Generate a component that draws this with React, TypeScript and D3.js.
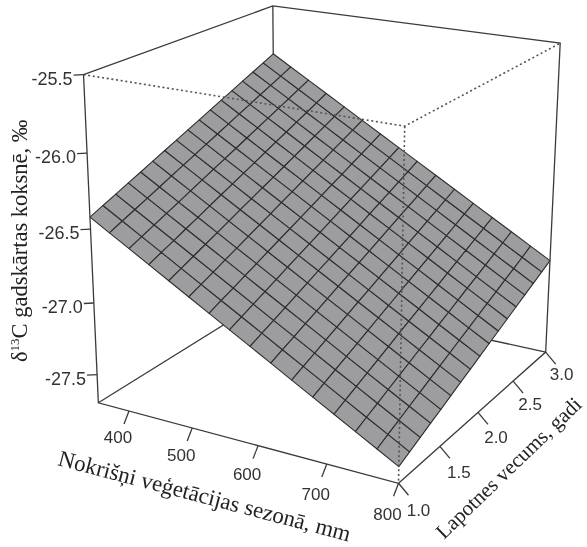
import React from "react";
import * as d3 from "d3";

const rainTicks = [400, 500, 600, 700, 800];
const ageTicks = [1.0, 1.5, 2.0, 2.5, 3.0];
const deltaTicks = [-25.5, -26.0, -26.5, -27.0, -27.5];

const rainLim = [350, 800];
const ageLim = [1, 3];
const deltaLim = [-27.7, -25.5];

const rainGrid = [350, 380, 410, 440, 470, 500, 530, 560, 590, 620, 650, 680, 710, 740, 770, 800];
const ageGrid = [1, 1.125, 1.25, 1.375, 1.5, 1.625, 1.75, 1.875, 2, 2.125, 2.25, 2.375, 2.5, 2.625, 2.75, 2.875, 3];

// fitted d13C, one row per age, one column per rain
const surface = [
  [-26.420, -26.498, -26.576, -26.654, -26.732, -26.810, -26.888, -26.966, -27.044, -27.122, -27.200, -27.278, -27.356, -27.434, -27.512, -27.590],
  [-26.384, -26.462, -26.540, -26.618, -26.696, -26.774, -26.852, -26.930, -27.008, -27.086, -27.164, -27.242, -27.320, -27.398, -27.476, -27.554],
  [-26.349, -26.427, -26.505, -26.583, -26.661, -26.739, -26.817, -26.895, -26.973, -27.051, -27.129, -27.207, -27.285, -27.363, -27.441, -27.519],
  [-26.313, -26.391, -26.469, -26.547, -26.625, -26.703, -26.781, -26.859, -26.937, -27.015, -27.093, -27.171, -27.249, -27.327, -27.405, -27.483],
  [-26.278, -26.356, -26.434, -26.512, -26.590, -26.668, -26.746, -26.824, -26.902, -26.980, -27.058, -27.136, -27.214, -27.292, -27.370, -27.448],
  [-26.242, -26.320, -26.398, -26.476, -26.554, -26.632, -26.710, -26.788, -26.866, -26.944, -27.022, -27.100, -27.178, -27.256, -27.334, -27.412],
  [-26.206, -26.284, -26.362, -26.440, -26.518, -26.596, -26.674, -26.752, -26.830, -26.908, -26.986, -27.064, -27.142, -27.220, -27.298, -27.376],
  [-26.171, -26.249, -26.327, -26.405, -26.483, -26.561, -26.639, -26.717, -26.795, -26.873, -26.951, -27.029, -27.107, -27.185, -27.263, -27.341],
  [-26.135, -26.213, -26.291, -26.369, -26.447, -26.525, -26.603, -26.681, -26.759, -26.837, -26.915, -26.993, -27.071, -27.149, -27.227, -27.305],
  [-26.100, -26.178, -26.256, -26.334, -26.412, -26.490, -26.568, -26.646, -26.724, -26.802, -26.880, -26.958, -27.036, -27.114, -27.192, -27.270],
  [-26.064, -26.142, -26.220, -26.298, -26.376, -26.454, -26.532, -26.610, -26.688, -26.766, -26.844, -26.922, -27.000, -27.078, -27.156, -27.234],
  [-26.028, -26.106, -26.184, -26.262, -26.340, -26.418, -26.496, -26.574, -26.652, -26.730, -26.808, -26.886, -26.964, -27.042, -27.120, -27.198],
  [-25.993, -26.071, -26.149, -26.227, -26.305, -26.383, -26.461, -26.539, -26.617, -26.695, -26.773, -26.851, -26.929, -27.007, -27.085, -27.163],
  [-25.957, -26.035, -26.113, -26.191, -26.269, -26.347, -26.425, -26.503, -26.581, -26.659, -26.737, -26.815, -26.893, -26.971, -27.049, -27.127],
  [-25.922, -26.000, -26.078, -26.156, -26.234, -26.312, -26.390, -26.468, -26.546, -26.624, -26.702, -26.780, -26.858, -26.936, -27.014, -27.092],
  [-25.886, -25.964, -26.042, -26.120, -26.198, -26.276, -26.354, -26.432, -26.510, -26.588, -26.666, -26.744, -26.822, -26.900, -26.978, -27.056],
  [-25.850, -25.928, -26.006, -26.084, -26.162, -26.240, -26.318, -26.396, -26.474, -26.552, -26.630, -26.708, -26.786, -26.864, -26.942, -27.020],
];

type Pt = [number, number];

// where the 8 box corners land on the page: [u, v, w, px, py]
const boxCorners = [
  [0, 0, 0, 99, 402],
  [1, 0, 0, 399, 484],
  [1, 1, 0, 546, 351],
  [0, 1, 0, 274, 294],
  [0, 0, 1, 83, 74],
  [1, 0, 1, 404, 127],
  [1, 1, 1, 560, 43],
  [0, 1, 1, 274, 6],
];

function solve(A: number[][], b: number[]) {
  const n = b.length;
  const M = A.map((r, i) => [...r, b[i]]);
  for (let c = 0; c < n; c++) {
    let p = c;
    for (let r = c + 1; r < n; r++) if (Math.abs(M[r][c]) > Math.abs(M[p][c])) p = r;
    [M[c], M[p]] = [M[p], M[c]];
    for (let r = 0; r < n; r++) {
      if (r === c) continue;
      const f = M[r][c] / M[c][c];
      for (let k = c; k <= n; k++) M[r][k] -= f * M[c][k];
    }
  }
  return M.map((r, i) => r[n] / r[i]);
}

// least squares camera matrix for the box (scaled by 100 to keep numbers sane)
function fitCamera() {
  const rows: number[][] = [];
  const rhs: number[] = [];
  boxCorners.forEach(([u, v, w, px, py]) => {
    const X = px / 100, Y = py / 100;
    rows.push([u, v, w, 1, 0, 0, 0, 0, -X * u, -X * v, -X * w]);
    rhs.push(X);
    rows.push([0, 0, 0, 0, u, v, w, 1, -Y * u, -Y * v, -Y * w]);
    rhs.push(Y);
  });
  const AtA = rows[0].map((_, i) => rows[0].map((_, j) => d3.sum(rows, (r) => r[i] * r[j])));
  const Atb = rows[0].map((_, i) => d3.sum(rows, (r, k) => r[i] * rhs[k]));
  return solve(AtA, Atb);
}

const cam = fitCamera();
const uScale = d3.scaleLinear().domain(rainLim).range([0, 1]);
const vScale = d3.scaleLinear().domain(ageLim).range([0, 1]);
const wScale = d3.scaleLinear().domain(deltaLim).range([0, 1]);

function unit(u: number, v: number, w: number): Pt {
  const d = cam[8] * u + cam[9] * v + cam[10] * w + 1;
  return [
    (100 * (cam[0] * u + cam[1] * v + cam[2] * w + cam[3])) / d,
    (100 * (cam[4] * u + cam[5] * v + cam[6] * w + cam[7])) / d,
  ];
}
const project = (rain: number, age: number, delta: number) => unit(uScale(rain), vScale(age), wScale(delta));

const line = d3.line<Pt>();

const [xLo, xHi] = rainLim;
const [yLo, yHi] = ageLim;
const [zLo, zHi] = deltaLim;

const backEdges: Pt[][] = [
  [project(xLo, yHi, zHi), project(xLo, yHi, zLo)],
  [project(xLo, yLo, zLo), project(xLo, yHi, zLo)],
  [project(xHi, yHi, zLo), project(xLo, yHi, zLo)],
];
const dottedEdges: Pt[][] = [
  [project(xLo, yLo, zHi), project(xHi, yLo, zHi), project(xHi, yHi, zHi)],
  [project(xHi, yLo, zHi), project(xHi, yLo, zLo)],
];
const outline: Pt[] = [
  project(xLo, yLo, zHi),
  project(xLo, yHi, zHi),
  project(xHi, yHi, zHi),
  project(xHi, yHi, zLo),
  project(xHi, yLo, zLo),
  project(xLo, yLo, zLo),
  project(xLo, yLo, zHi),
];

// tick labels drift away from the axis as the box comes closer
const rainLabelDy = d3.scaleLinear().domain([400, 800]).range([32, 37]);
const ageLabelDy = d3.scaleLinear().domain(ageLim).range([33, 28]);
const ageLabelDx = d3.scaleLinear().domain(ageLim).range([20, 16]);

const INK = "#3a3a3a";
const SANS = "'Liberation Sans', Arial, sans-serif";
const SERIF = "'Liberation Serif', 'Times New Roman', serif";

export default function App() {
  const cells: string[] = [];
  for (let j = 0; j < ageGrid.length - 1; j++) {
    for (let i = 0; i < rainGrid.length - 1; i++) {
      cells.push(
        line([
          project(rainGrid[i], ageGrid[j], surface[j][i]),
          project(rainGrid[i + 1], ageGrid[j], surface[j][i + 1]),
          project(rainGrid[i + 1], ageGrid[j + 1], surface[j + 1][i + 1]),
          project(rainGrid[i], ageGrid[j + 1], surface[j + 1][i]),
        ])! + "Z"
      );
    }
  }

  return (
    <svg
      width={587}
      height={547}
      style={{ position: "absolute", left: 0, top: 0, background: "#fff" }}
      fontFamily={SANS}
    >
      <defs>
        <filter id="scan" x="0" y="0" width="100%" height="100%">
          <feGaussianBlur stdDeviation="0.35" />
        </filter>
      </defs>
      <g filter="url(#scan)">
        {backEdges.map((e, i) => (
          <path key={i} d={line(e)!} fill="none" stroke={INK} strokeWidth={1.3} />
        ))}

        <g fill="#9d9d9f" stroke="#2e2e2e" strokeWidth={1.1} strokeLinejoin="round">
          {cells.map((d, i) => (
            <path key={i} d={d} />
          ))}
        </g>

        {dottedEdges.map((e, i) => (
          <path
            key={i}
            d={line(e)!}
            fill="none"
            stroke="#555"
            strokeWidth={1.6}
            strokeDasharray="2 2.7"
          />
        ))}

        <path d={line(outline)!} fill="none" stroke={INK} strokeWidth={1.3} />

        {deltaTicks.map((t) => {
          const [x, y] = project(xLo, yLo, t);
          return (
            <g key={t}>
              <line x1={x} y1={y} x2={x - 10} y2={y + 0.5} stroke={INK} strokeWidth={1.3} />
              <text x={x - 11} y={y + 10} textAnchor="end" fontSize={18} fill="#333">
                {t.toFixed(1)}
              </text>
            </g>
          );
        })}

        {rainTicks.map((t) => {
          const [x, y] = project(t, yLo, zLo);
          return (
            <g key={t}>
              <line x1={x} y1={y} x2={x - 5} y2={y + 13} stroke={INK} strokeWidth={1.3} />
              <text x={x - 11} y={y + rainLabelDy(t)} textAnchor="middle" fontSize={17} fill="#333">
                {t}
              </text>
            </g>
          );
        })}

        {ageTicks.map((t) => {
          const [x, y] = project(xHi, t, zLo);
          return (
            <g key={t}>
              <line x1={x} y1={y} x2={x + 10} y2={y + 12} stroke={INK} strokeWidth={1.3} />
              <text x={x + ageLabelDx(t)} y={y + ageLabelDy(t)} textAnchor="middle" fontSize={17} fill="#333">
                {t.toFixed(1)}
              </text>
            </g>
          );
        })}

        <text transform="translate(27,362) rotate(-90)" fontFamily={SERIF} fontSize={22.5} fill="#222">
          δ<tspan dy={-8} fontSize={13}>13</tspan>
          <tspan dy={8}>C gadskārtas koksnē, ‰</tspan>
        </text>
        <text transform="translate(57,465) rotate(14.7)" fontFamily={SERIF} fontSize={22.8} fill="#222">
          Nokrišņi veģetācijas sezonā, mm
        </text>
        <text transform="translate(444,540) rotate(-44)" fontFamily={SERIF} fontSize={21} fill="#222">
          Lapotnes vecums, gadi
        </text>
      </g>
    </svg>
  );
}
